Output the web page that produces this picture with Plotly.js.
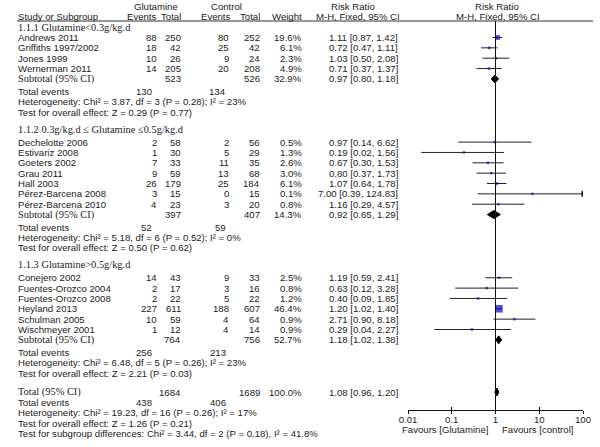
<!DOCTYPE html>
<html><head><meta charset="utf-8">
<script src="https://cdn.plot.ly/plotly-3.0.1.min.js"></script>
<style>html,body{margin:0;padding:0;background:#fff}#chart{width:600px;height:447px}</style>
</head><body><div id="chart"></div>
<script>
// ---------- DATA ----------
const groupLabels = ["1.1.1 Glutamine<0.3g/kg.d", "1.1.2 0.3g/kg.d \u2264 Glutamine \u22640.5g/kg.d", "1.1.3 Glutamine>0.5g/kg.d"];
const studyNames = ["Andrews 2011","Griffiths 1997/2002","Jones 1999","Wernerman 2011",
  "Dechelotte 2006","Estivariz 2008","Goeters 2002","Grau 2011","Hall 2003","P\u00e9rez-Barcena 2008","P\u00e9rez-Barcena 2010",
  "Conejero 2002","Fuentes-Orozco 2004","Fuentes-Orozco 2008","Heyland 2013","Schulman 2005","Wischmeyer 2001"];
const studyGroup = [0,0,0,0, 1,1,1,1,1,1,1, 2,2,2,2,2,2];
const glutEvents = [88,18,10,14, 2,1,7,9,26,3,4, 14,2,2,227,10,1];
const glutTotal  = [250,42,26,205, 58,30,33,59,179,15,23, 43,17,22,611,59,12];
const ctrlEvents = [80,25,9,20, 2,5,11,13,25,0,3, 9,3,5,188,4,4];
const ctrlTotal  = [252,42,24,208, 56,29,35,68,184,15,20, 33,16,22,607,64,14];
const weightPct  = [19.6,6.1,2.3,4.9, 0.5,1.3,2.6,3.0,6.1,0.1,0.8, 2.5,0.8,1.2,46.4,0.9,0.9];
const rrEst  = [1.11,0.72,1.03,0.71, 0.97,0.19,0.67,0.80,1.07,7.00,1.16, 1.19,0.63,0.40,1.20,2.71,0.29];
const rrLow  = [0.87,0.47,0.50,0.37, 0.14,0.02,0.30,0.37,0.64,0.39,0.29, 0.59,0.12,0.09,1.02,0.90,0.04];
const rrHigh = [1.42,1.11,2.08,1.37, 6.62,1.56,1.53,1.73,1.78,124.83,4.57, 2.41,3.28,1.85,1.40,8.18,2.27];

const subGlutTotal = [523,397,764];
const subCtrlTotal = [526,407,756];
const subWeight = [32.9,14.3,52.7];
const subEst  = [0.97,0.92,1.18];
const subLow  = [0.80,0.65,1.02];
const subHigh = [1.18,1.29,1.38];
const subGlutEvents = [130,52,256];
const subCtrlEvents = [134,59,213];
const subHet = ["Heterogeneity: Chi\u00b2 = 3.87, df = 3 (P = 0.28); I\u00b2 = 23%",
                "Heterogeneity: Chi\u00b2 = 5.18, df = 6 (P = 0.52); I\u00b2 = 0%",
                "Heterogeneity: Chi\u00b2 = 6.48, df = 5 (P = 0.26); I\u00b2 = 23%"];
const subTest = ["Test for overall effect: Z = 0.29 (P = 0.77)",
                 "Test for overall effect: Z = 0.50 (P = 0.62)",
                 "Test for overall effect: Z = 2.21 (P = 0.03)"];

const totGlut = 1684, totCtrl = 1689, totWeight = 100.0;
const totEst = 1.08, totLow = 0.96, totHigh = 1.20;
const totGlutEvents = 438, totCtrlEvents = 406;
const totHet = "Heterogeneity: Chi\u00b2 = 19.23, df = 16 (P = 0.26); I\u00b2 = 17%";
const totTest = "Test for overall effect: Z = 1.26 (P = 0.21)";
const subgroupTest = "Test for subgroup differences: Chi\u00b2 = 3.44, df = 2 (P = 0.18), I\u00b2 = 41.8%";

const axisTicks = [0.01, 0.1, 1, 10, 100];
const axisTickText = ["0.01","0.1","1","10","100"];
const favLeft = "Favours [Glutamine]", favRight = "Favours [control]";

// ---------- LAYOUT (pixel-based row positions) ----------
const W = 600, H = 447;
const STEP = 10.35;
const FONT = "Liberation Sans, Arial, sans-serif";
const SERIF = "Liberation Serif, Times New Roman, serif";
const FS = 9.6;
const TXT = "#222";
const col = {name:17, gEv:158, gTot:182, cEv:230, cTot:261, wt:303, rr:399, gTE:153, cTE:227};
const xAxisY = 410;
const headerLineY = 21;
const xmin = 0.01, xmax = 100;

const ann = [];
function t(x, y, s, anchor, extra) {
  ann.push(Object.assign({xref:'paper', yref:'y', x:x/W, y:y, text:s, showarrow:false,
    xanchor:anchor||'left', yanchor:'middle', borderpad:0, font:{family:FONT, size:FS, color:TXT}}, extra||{}));
}
const fmt2 = v => v.toFixed(2);
const rrText = (e,l,h) => fmt2(e) + " [" + fmt2(l) + ", " + fmt2(h) + "]";
const serifFont = {font:{family:SERIF, size:10.4, color:TXT}};

// headers
t(156, 6, "Glutamine", 'center');
t(226, 6, "Control", 'center');
t(353, 6, "Risk Ratio", 'center');
t(497, 6, "Risk Ratio", 'center');
t(col.name, 16, "Study or Subgroup");
t(col.gEv, 16, "Events", 'right');
t(col.gTot, 16, "Total", 'right');
t(col.cEv+2, 16, "Events", 'right');
t(col.cTot, 16, "Total", 'right');
t(col.wt, 16, "Weight", 'right');
t(358, 16, "M-H, Fixed, 95% CI", 'center');
t(498, 16, "M-H, Fixed, 95% CI", 'center');

const ciX = [], ciY = [];
const sqX = [], sqY = [], sqS = [];
const arrX = [], arrY = [];
const diamonds = [];
const DH = 4;

let y = 27;
for (let g = 0; g < groupLabels.length; g++) {
  t(col.name, y, groupLabels[g], 'left', serifFont);
  y += (g === 0 ? 10.5 : 13);
  for (let i = 0; i < studyNames.length; i++) {
    if (studyGroup[i] !== g) continue;
    t(col.name, y, studyNames[i]);
    t(col.gEv, y, String(glutEvents[i]), 'right');
    t(col.gTot, y, String(glutTotal[i]), 'right');
    t(col.cEv, y, String(ctrlEvents[i]), 'right');
    t(col.cTot, y, String(ctrlTotal[i]), 'right');
    t(col.wt, y, weightPct[i].toFixed(1) + "%", 'right');
    t(col.rr, y, rrText(rrEst[i], rrLow[i], rrHigh[i]), 'right');
    const hiC = Math.min(rrHigh[i], xmax), loC = Math.max(rrLow[i], xmin);
    ciX.push(loC, hiC, null); ciY.push(y, y, null);
    if (rrHigh[i] > xmax) { arrX.push(xmax); arrY.push(y); }
    sqX.push(rrEst[i]); sqY.push(y); sqS.push(Math.max(2.5, 1.1 * Math.sqrt(weightPct[i])));
    y += STEP;
  }
  // subtotal
  t(col.name, y + 0.5, "Subtotal (95% CI)", 'left', serifFont);
  t(col.gTot, y, String(subGlutTotal[g]), 'right');
  t(col.cTot, y, String(subCtrlTotal[g]), 'right');
  t(col.wt, y, subWeight[g].toFixed(1) + "%", 'right');
  t(col.rr, y, rrText(subEst[g], subLow[g], subHigh[g]), 'right');
  diamonds.push([subLow[g], subEst[g], subHigh[g], y]);
  y += 12.5;
  t(col.name, y, "Total events");
  t(col.gTE, y, String(subGlutEvents[g]), 'right');
  t(col.cTE, y, String(subCtrlEvents[g]), 'right');
  y += STEP;
  t(col.name, y, subHet[g]);
  y += STEP;
  t(col.name, y, subTest[g]);
  y += (g < groupLabels.length - 1 ? 17 : 19);
}
// overall
t(col.name, y, "Total (95% CI)", 'left', serifFont);
t(col.gTot, y, String(totGlut), 'right');
t(col.cTot, y, String(totCtrl), 'right');
t(col.wt, y, totWeight.toFixed(1) + "%", 'right');
t(col.rr, y, rrText(totEst, totLow, totHigh), 'right');
diamonds.push([totLow, totEst, totHigh, y]);
y += STEP;
t(col.name, y, "Total events");
t(col.gTE, y, String(totGlutEvents), 'right');
t(col.cTE, y, String(totCtrlEvents), 'right');
y += STEP; t(col.name, y, totHet);
y += STEP; t(col.name, y, totTest);
y += STEP; t(col.name, y, subgroupTest);

// favours labels
t(445, 429.5, favLeft, 'center');
t(537, 429.5, favRight, 'center');

// ---------- TRACES ----------
const traces = [];
traces.push({type:'scatter', mode:'lines', x:ciX, y:ciY, line:{color:'#222', width:1}, hoverinfo:'skip', xaxis:'x', yaxis:'y'});
traces.push({type:'scatter', mode:'markers', x:sqX, y:sqY, marker:{symbol:'square', size:sqS, color:'#0a0ac8', line:{width:0}}, hoverinfo:'skip'});
traces.push({type:'scatter', mode:'markers', x:arrX, y:arrY, marker:{symbol:'triangle-right', size:6, color:'#111'}, hoverinfo:'skip'});
diamonds.forEach(d => {
  traces.push({type:'scatter', mode:'lines', fill:'toself', fillcolor:'#000',
    x:[d[0], d[1], d[2], d[1], d[0]], y:[d[3], d[3]-DH, d[3], d[3]+DH, d[3]],
    line:{color:'#000', width:1}, hoverinfo:'skip'});
});
traces.push({type:'scatter', mode:'markers', x:[1], y:[xAxisY], xaxis:'x2', yaxis:'y', marker:{size:0, opacity:0}, hoverinfo:'skip'});

const xDomain = [408/W, 583/W];
const xPos = 1 - xAxisY / H;
const layout = {
  width: W, height: H, margin:{l:0, r:0, t:0, b:0},
  paper_bgcolor:'#fff', plot_bgcolor:'rgba(0,0,0,0)', showlegend:false,
  xaxis:{type:'log', range:[Math.log10(xmin), Math.log10(xmax)], domain:xDomain, anchor:'free', position:xPos,
    showline:true, linecolor:'#111', linewidth:1, ticks:'inside', ticklen:3, tickcolor:'#111', tickwidth:1,
    tickvals:axisTicks, ticktext:axisTickText, showgrid:false, zeroline:false,
    tickfont:{family:FONT, size:FS, color:TXT}, fixedrange:true},
  xaxis2:{type:'log', range:[Math.log10(xmin), Math.log10(xmax)], domain:xDomain, anchor:'free', position:xPos,
    overlaying:'x', showline:false, ticks:'outside', ticklen:3, tickcolor:'#111', tickwidth:1,
    tickvals:axisTicks, showticklabels:false, showgrid:false, zeroline:false, fixedrange:true},
  yaxis:{range:[H, 0], domain:[0,1], visible:false, fixedrange:true},
  shapes:[
    {type:'line', xref:'paper', yref:'y', x0:col.name/W, x1:593/W, y0:headerLineY, y1:headerLineY, line:{color:'#333', width:1}},
    {type:'line', xref:'x', yref:'y', x0:1, x1:1, y0:headerLineY, y1:xAxisY, line:{color:'#111', width:1}}
  ],
  annotations: ann
};
Plotly.newPlot('chart', traces, layout, {staticPlot:true, displayModeBar:false});
</script></body></html>
